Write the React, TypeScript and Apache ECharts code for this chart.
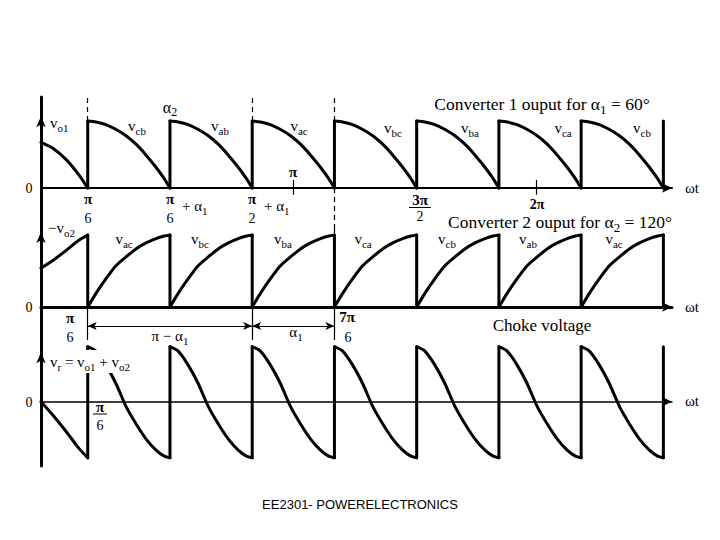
import React, { useEffect, useRef } from "react";
import * as echarts from "echarts";

// ---- data (x in degrees of ωt, y normalised to each panel's peak) ----
const jumpDeg = [30, 90, 150, 210, 270, 330, 390, 450];
const periodDeg = 60;
const arcFrac = [0, 0.1, 0.22, 0.34, 0.47, 0.59, 0.71, 0.83, 0.93, 1];
const vo1Arc = [1.0, 0.985, 0.945, 0.876, 0.776, 0.65, 0.49, 0.31, 0.14, 0];
const vo2Arc = [0, 0.19, 0.39, 0.57, 0.7, 0.81, 0.89, 0.95, 0.985, 1.0];
const vrArc = [1.0, 0.92, 0.67, 0.34, -0.1, -0.41, -0.68, -0.88, -0.99, -1.02];
const startDeg = [-4.1, 4.8, 14.5, 23, 30];
const vo1Start = [0.68, 0.59, 0.42, 0.21, 0];
const vo2Start = [0.54, 0.65, 0.79, 0.92, 1.0];
const vrStart = [0, -0.25, -0.55, -0.83, -1.02];
const piTicks = [180, 357];
const dashedTopDeg = [30, 150, 210];
const dimDeg = [30, 150, 210];

const xMin = -4.1;
const xMax = 456.3;
const SERIF = "'Liberation Serif', 'DejaVu Serif', serif";

function arcsData(start: number[], arc: number[]) {
  const out: any[] = [];
  startDeg.forEach((d, i) => out.push([d, start[i]]));
  for (let j = 0; j < jumpDeg.length - 1; j++) {
    out.push([jumpDeg[j], "-"]);
    arcFrac.forEach((f, i) => out.push([jumpDeg[j] + f * periodDeg, arc[i]]));
  }
  return out;
}

function jumpsData(before: number, after: number) {
  const out: any[] = [];
  jumpDeg.forEach((d, j) => {
    if (j) out.push([d, "-"]);
    out.push([d, before], [d, after]);
  });
  return out;
}

const curveStyle = { color: "#000", width: 3, cap: "round", join: "round" };

const rich = (size: number) => ({
  m: { fontSize: size, fontFamily: SERIF, color: "#000" },
  s: { fontSize: Math.round(size * 0.72), fontFamily: SERIF, color: "#000", padding: [Math.round(size * 0.6), 0, 0, 0] },
});

function T(text: string, x: number, y: number, size = 15, align = "center", extra: any = {}) {
  return {
    type: "text",
    z: 101,
    x,
    y,
    style: {
      text,
      fontFamily: SERIF,
      fontSize: size,
      fill: "#000",
      align,
      verticalAlign: "middle",
      rich: rich(size),
      ...extra,
    },
  };
}

function bar(x1: number, x2: number, y: number) {
  return { type: "line", z: 101, shape: { x1, y1: y, x2, y2: y }, style: { stroke: "#000", lineWidth: 1 } };
}

const sub = (m: string, s: string) => `{m|${m}}{s|${s}}`;

export default function App() {
  const ref = useRef<HTMLDivElement>(null);
  useEffect(() => {
    document.body.style.margin = "0";
    const chart = echarts.init(ref.current!, null, { renderer: "svg" });

    const grids = [
      { top: 97, height: 131, min: -0.597, max: 1.358, axisW: 2 },
      { top: 228, height: 122, min: -0.597, max: 1.097, axisW: 3 },
      { top: 344, height: 122, min: -1.169, max: 1.049, axisW: 1.5 },
    ];

    const dashed = { color: "#000", width: 1.2, type: [5, 4] };
    const thin = { color: "#000", width: 1.2, type: "solid" };
    const arrowPt = (v: number) => ({ coord: [xMin, v] });

    const arcSeries = (idx: number, data: any[], extra: any = {}) => ({
      type: "line",
      xAxisIndex: idx,
      yAxisIndex: idx,
      data,
      showSymbol: false,
      symbol: "none",
      smooth: 0.25,
      connectNulls: false,
      clip: false,
      lineStyle: curveStyle,
      ...extra,
    });
    const jumpSeries = (idx: number, data: any[], extra: any = {}) => ({
      type: "line",
      xAxisIndex: idx,
      yAxisIndex: idx,
      data,
      showSymbol: false,
      symbol: "none",
      smooth: false,
      connectNulls: false,
      clip: false,
      lineStyle: curveStyle,
      ...extra,
    });
    const yArrow = (v: number) => ({
      silent: true,
      symbol: "arrow",
      symbolSize: [7, 11],
      itemStyle: { color: "#000" },
      label: { show: false },
      data: [arrowPt(v)],
    });

    const option: any = {
      animation: false,
      backgroundColor: "#fff",
      grid: grids.map((g) => ({ left: 41, right: 48, top: g.top, height: g.height, containLabel: false })),
      xAxis: grids.map((g, i) => ({
        type: "value",
        gridIndex: i,
        min: xMin,
        max: xMax,
        axisLine: {
          show: true,
          onZero: true,
          symbol: ["none", "arrow"],
          symbolSize: [7, 10],
          lineStyle: { color: "#000", width: g.axisW },
        },
        axisTick: { show: false },
        axisLabel: { show: false },
        splitLine: { show: false },
      })),
      yAxis: grids.map((g, i) => ({
        type: "value",
        gridIndex: i,
        min: g.min,
        max: g.max,
        axisLine: { show: true, onZero: false, lineStyle: { color: "#000", width: 3 } },
        axisTick: { show: false },
        axisLabel: { show: false },
        splitLine: { show: false },
      })),
      series: [
        // ---- panel 1: converter 1 output ----
        arcSeries(0, arcsData(vo1Start, vo1Arc), {
          markLine: {
            silent: true,
            symbol: ["none", "none"],
            label: { show: false },
            lineStyle: dashed,
            data: [
              ...dashedTopDeg.map((d) => [{ coord: [d, 1.0] }, { coord: [d, 1.343] }]),
              [{ coord: [dimDeg[2], 0] }, { coord: [dimDeg[2], -0.597] }],
            ],
          },
          markPoint: yArrow(1.07),
        }),
        jumpSeries(0, jumpsData(0, 1.0), {
          markLine: {
            silent: true,
            symbol: ["none", "none"],
            label: { show: false },
            lineStyle: thin,
            data: piTicks.map((d) => [{ coord: [d, -0.1] }, { coord: [d, 0.12] }]),
          },
        }),
        // ---- panel 2: converter 2 output ----
        arcSeries(1, arcsData(vo2Start, vo2Arc), {
          markLine: {
            silent: true,
            symbol: ["none", "none"],
            label: { show: false },
            lineStyle: dashed,
            data: [[{ coord: [dimDeg[2], 1.097] }, { coord: [dimDeg[2], 1.0] }]],
          },
          markPoint: yArrow(1.04),
        }),
        jumpSeries(1, jumpsData(1.0, 0), {
          markLine: {
            silent: true,
            symbol: ["none", "none"],
            label: { show: false },
            lineStyle: thin,
            data: [
              ...dimDeg.map((d) => [{ coord: [d, 0] }, { coord: [d, -0.458] }]),
              [
                { coord: [dimDeg[0], -0.264], symbol: "arrow", symbolSize: [6, 9] },
                { coord: [dimDeg[1], -0.264], symbol: "arrow", symbolSize: [6, 9] },
              ],
              [
                { coord: [dimDeg[1], -0.264], symbol: "arrow", symbolSize: [6, 9] },
                { coord: [dimDeg[2], -0.264], symbol: "arrow", symbolSize: [6, 9] },
              ],
            ],
          },
        }),
        // ---- panel 3: choke voltage ----
        arcSeries(2, arcsData(vrStart, vrArc), { markPoint: yArrow(0.9) }),
        jumpSeries(2, jumpsData(-1.02, 1.0)),
      ],
      graphic: [
        // panel 1
        T("0", 29, 188, 14),
        T("ωt", 692, 188, 15),
        T(sub("v", "o1"), 50, 123, 15, "left"),
        T(sub("α", "2"), 170, 107, 16),
        T(`{m|Converter 1 ouput for α}{s|1}{m| = 60°}`, 542, 104, 17.5),
        T(sub("v", "cb"), 137, 126),
        T(sub("v", "ab"), 220, 126),
        T(sub("v", "ac"), 299, 126),
        T(sub("v", "bc"), 393, 128),
        T(sub("v", "ba"), 470, 128),
        T(sub("v", "ca"), 563, 128),
        T(sub("v", "cb"), 642, 128),
        T("π", 88, 199, 15, "center", { fontWeight: "bold" }),
        T("6", 88, 218, 14),
        T("π", 170, 199, 15, "center", { fontWeight: "bold" }),
        T("6", 170, 218, 14),
        T(sub("+ α", "1"), 182, 206, 15, "left"),
        T("π", 252, 199, 15, "center", { fontWeight: "bold" }),
        T("2", 252, 218, 14),
        T(sub("+ α", "1"), 264, 206, 15, "left"),
        T("π", 293, 172, 15, "center", { fontWeight: "bold" }),
        T("3π", 420, 200, 15, "center", { fontWeight: "bold" }),
        bar(409, 431, 207.5),
        T("2", 420, 216, 14),
        T("2π", 537, 204, 14, "center", { fontWeight: "bold" }),
        T(`{m|Converter 2 ouput for α}{s|2}{m| = 120°}`, 560, 222, 17.5),
        // panel 2
        T("0", 29, 307, 14),
        T("ωt", 692, 307, 15),
        T(sub("−v", "o2"), 48, 228, 15, "left"),
        T(sub("v", "ac"), 124, 239),
        T(sub("v", "bc"), 200, 239),
        T(sub("v", "ba"), 283, 239),
        T(sub("v", "ca"), 363, 239),
        T(sub("v", "cb"), 447, 239),
        T(sub("v", "ab"), 528, 239),
        T(sub("v", "ac"), 614, 239),
        T("π", 70, 318, 15, "center", { fontWeight: "bold" }),
        T("6", 70, 337, 14),
        T("7π", 347, 317, 15, "center", { fontWeight: "bold" }),
        T("6", 348, 337, 14),
        T(sub("π − α", "1"), 170, 336, 15),
        T(sub("α", "1"), 296, 332, 15),
        T("Choke voltage", 542, 325, 17),
        // panel 3
        T("0", 29, 402, 14),
        T("ωt", 692, 401, 15),
        { type: "rect", z: 100, shape: { x: 47, y: 350, width: 103, height: 23 }, style: { fill: "#fff" } },
        T(`{m|v}{s|r}{m| = v}{s|o1}{m| + v}{s|o2}`, 50, 362, 15, "left"),
        T("π", 100, 407, 15, "center", { fontWeight: "bold" }),
        bar(93, 107, 414),
        T("6", 100, 425, 14),
        // footer
        {
          type: "text",
          z: 101,
          x: 360,
          y: 504,
          style: {
            text: "EE2301- POWERELECTRONICS",
            fontFamily: "'Liberation Sans', Arial, sans-serif",
            fontSize: 13,
            fill: "#000",
            align: "center",
            verticalAlign: "middle",
          },
        },
      ],
    };

    chart.setOption(option);
    return () => chart.dispose();
  }, []);

  return <div ref={ref} style={{ width: 720, height: 540 }} />;
}
